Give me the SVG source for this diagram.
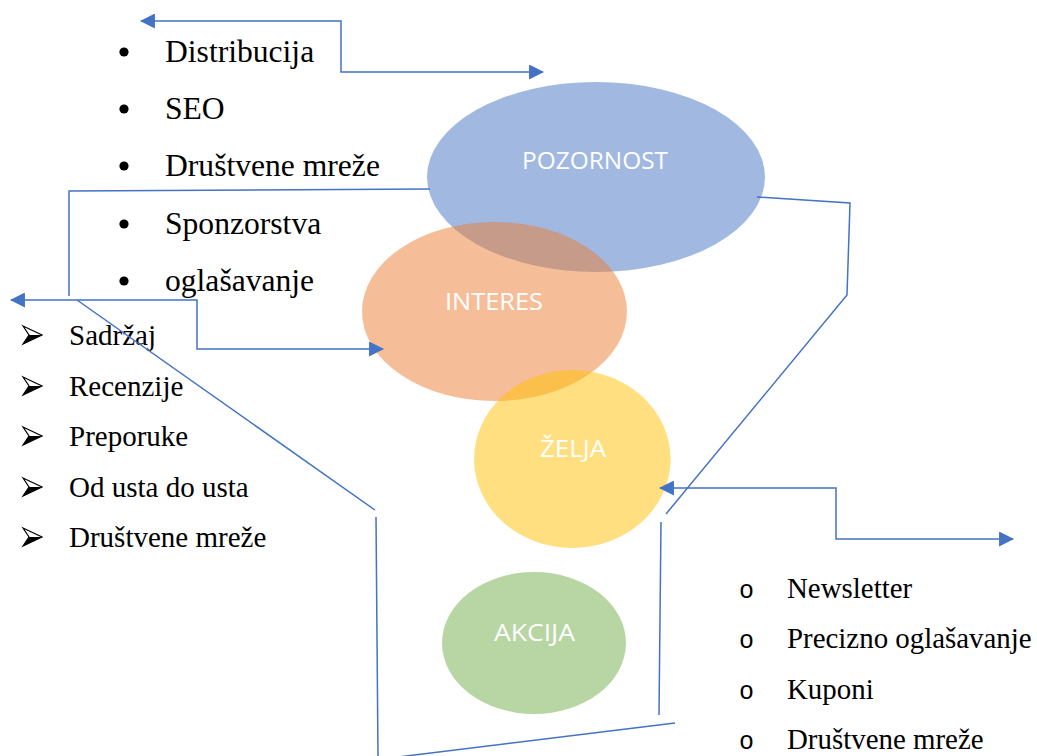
<svg xmlns="http://www.w3.org/2000/svg" width="1037" height="756" viewBox="0 0 1037 756">
<defs>
<style>
.ell-label{font-family:"Open Sans","Liberation Sans",sans-serif;font-size:24px;fill:#ffffff;}
.l1{font-family:"Liberation Serif","Times New Roman",serif;font-size:31.6px;fill:#000;}
.l2{font-family:"Liberation Serif","Times New Roman",serif;font-size:29px;fill:#000;}
.l3{font-family:"Liberation Serif","Times New Roman",serif;font-size:28.9px;fill:#000;}
.ob{font-family:"Liberation Mono","Courier New",monospace;font-size:25px;fill:#000;}
.conn{fill:none;stroke:#4472C4;stroke-width:1.5;}
.arr{marker-start:url(#ah);marker-end:url(#ah);}
</style>
<marker id="ah" viewBox="0 0 14 14" refX="13" refY="7" markerWidth="15" markerHeight="15" markerUnits="userSpaceOnUse" orient="auto-start-reverse">
<path d="M0,0 L14,7 L0,14 z" fill="#4472C4"/>
</marker>
<g id="arrowbullet">
<path d="M0,-9 L19,0 L0,9 L6,0 z" fill="#fff" stroke="#000" stroke-width="1.2" stroke-linejoin="miter"/>
<path d="M6,0 L19,0 L0,9 z" fill="#000"/>
</g>
</defs>
<rect width="1037" height="756" fill="#ffffff"/>

<g id="node-pozornost">
<ellipse cx="596" cy="177" rx="169" ry="95" fill="#4472C4" fill-opacity="0.5"/>
<text class="ell-label" x="522" y="169" textLength="146" lengthAdjust="spacingAndGlyphs">POZORNOST</text>
</g>
<g id="node-interes">
<ellipse cx="494.5" cy="311.5" rx="132.5" ry="89.5" fill="#ED7D31" fill-opacity="0.5"/>
<text class="ell-label" x="445" y="310" textLength="98" lengthAdjust="spacingAndGlyphs">INTERES</text>
</g>
<g id="node-zelja">
<ellipse cx="572.3" cy="459" rx="98.3" ry="89" fill="#FFC000" fill-opacity="0.5"/>
<text class="ell-label" x="540" y="457" textLength="66" lengthAdjust="spacingAndGlyphs">ŽELJA</text>
</g>
<g id="node-akcija">
<ellipse cx="534" cy="643" rx="92" ry="71" fill="#70AD47" fill-opacity="0.5"/>
<text class="ell-label" x="494" y="641" textLength="81" lengthAdjust="spacingAndGlyphs">AKCIJA</text>
</g>

<g id="list-pozornost">
<circle cx="124" cy="52" r="4.6"/>
<circle cx="124" cy="109" r="4.6"/>
<circle cx="124" cy="166" r="4.6"/>
<circle cx="124" cy="224" r="4.6"/>
<circle cx="124" cy="281" r="4.6"/>
<text class="l1" x="165" y="62">Distribucija</text>
<text class="l1" x="165" y="119">SEO</text>
<text class="l1" x="165" y="176">Društvene mreže</text>
<text class="l1" x="165" y="234">Sponzorstva</text>
<text class="l1" x="165" y="291">oglašavanje</text>
</g>

<g id="list-interes">
<use href="#arrowbullet" x="23" y="335"/>
<use href="#arrowbullet" x="23" y="386"/>
<use href="#arrowbullet" x="23" y="436"/>
<use href="#arrowbullet" x="23" y="487"/>
<use href="#arrowbullet" x="23" y="537"/>
<text class="l2" x="69" y="345">Sadržaj</text>
<text class="l2" x="69" y="396">Recenzije</text>
<text class="l2" x="69" y="446">Preporuke</text>
<text class="l2" x="69" y="497">Od usta do usta</text>
<text class="l2" x="69" y="547">Društvene mreže</text>
</g>

<g id="list-zelja">
<text class="ob" x="739" y="598">o</text>
<text class="ob" x="739" y="648">o</text>
<text class="ob" x="739" y="699">o</text>
<text class="ob" x="739" y="749">o</text>
<text class="l3" x="787" y="598">Newsletter</text>
<text class="l3" x="787" y="648">Precizno oglašavanje</text>
<text class="l3" x="787" y="699">Kuponi</text>
<text class="l3" x="787" y="749">Društvene mreže</text>
</g>

<g id="connectors">
<path class="conn arr" d="M141,21 H341 V72 H543"/>
<path class="conn" d="M430,189 L69,191 V296"/>
<path class="conn arr" d="M11,300 H197 V349 H383"/>
<path class="conn" d="M77,300 L375,510"/>
<path class="conn" d="M376,517 L378,756"/>
<path class="conn" d="M390,758 L675,723"/>
<path class="conn" d="M661,522 L659,715"/>
<path class="conn" d="M666,514 L847,295 L850,203 L757,197"/>
<path class="conn arr" d="M660,488 H836 V539 H1013"/>
</g>
</svg>
